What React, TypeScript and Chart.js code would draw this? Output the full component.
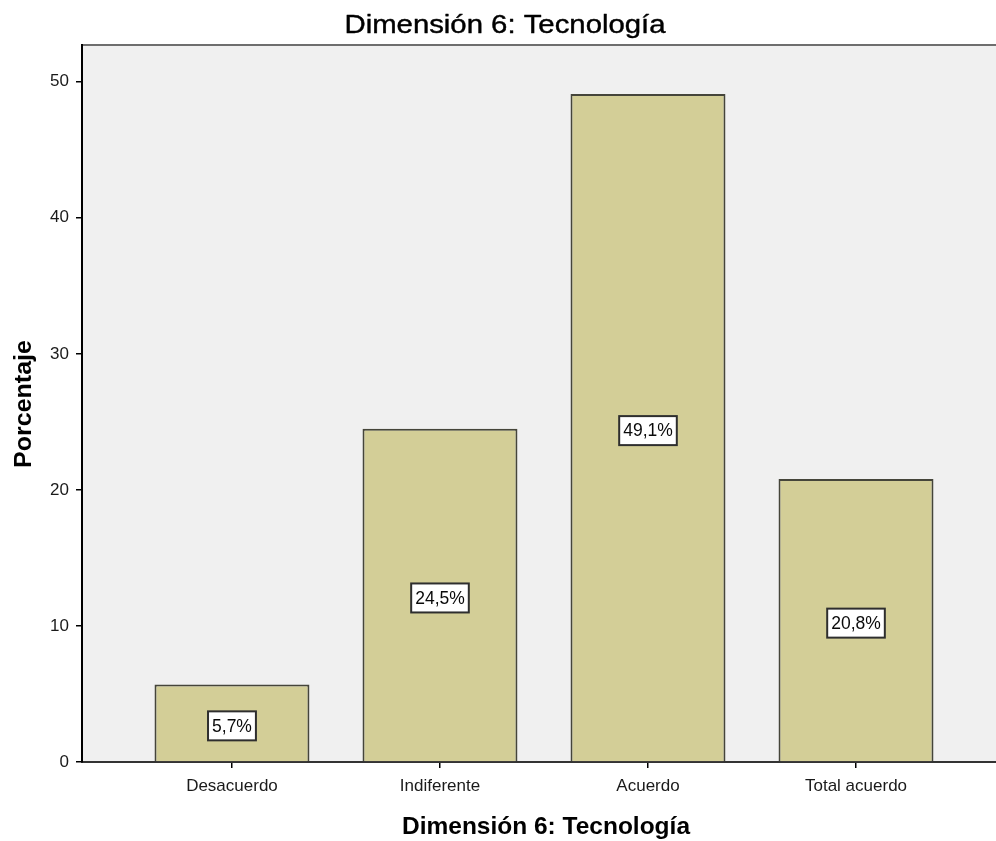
import { useEffect, useRef } from 'react';
import { Chart, registerables } from 'chart.js';

Chart.register(...registerables);

const categories = ['Desacuerdo', 'Indiferente', 'Acuerdo', 'Total acuerdo'];
const percentages = [5.7, 24.5, 49.1, 20.8];
const valueLabels = ['5,7%', '24,5%', '49,1%', '20,8%'];
const yTicks = [0, 10, 20, 30, 40, 50];
const chartTitle = 'Dimensión 6: Tecnología';
const xTitle = 'Dimensión 6: Tecnología';
const yTitle = 'Porcentaje';

const FONT = '"Liberation Sans", Arial, sans-serif';

function fitText(ctx: CanvasRenderingContext2D, text: string, cx: number, y: number, targetW: number, strokeW: number) {
  const w = ctx.measureText(text).width;
  const s = targetW / w;
  ctx.save();
  ctx.translate(cx, y);
  ctx.scale(s, 1);
  ctx.textAlign = 'center';
  if (strokeW > 0) {
    ctx.lineWidth = strokeW;
    ctx.strokeStyle = ctx.fillStyle as string;
    ctx.lineJoin = 'round';
    ctx.strokeText(text, 0, 0);
  }
  ctx.fillText(text, 0, 0);
  ctx.restore();
}

const decorPlugin = {
  id: 'decor',
  beforeDraw(chart: any) {
    const { ctx, chartArea: a } = chart;
    ctx.save();
    ctx.fillStyle = '#F0F0F0';
    ctx.fillRect(a.left, a.top, a.right - a.left, a.bottom - a.top);
    ctx.strokeStyle = '#6E6E6E';
    ctx.lineWidth = 2;
    ctx.beginPath();
    ctx.moveTo(a.left, a.top);
    ctx.lineTo(a.right, a.top);
    ctx.stroke();
    ctx.restore();
  },
  afterDatasetsDraw(chart: any) {
    const { ctx } = chart;
    const meta = chart.getDatasetMeta(0);
    ctx.save();
    ctx.font = `17.5px ${FONT}`;
    ctx.textAlign = 'center';
    ctx.textBaseline = 'middle';
    meta.data.forEach((bar: any, i: number) => {
      const text = valueLabels[i];
      const cx = bar.x;
      const cy = (bar.y + bar.base) / 2 + 3;
      const w = ctx.measureText(text).width + 8;
      const h = 29;
      ctx.fillStyle = '#FFFFFF';
      ctx.fillRect(cx - w / 2, cy - h / 2, w, h);
      ctx.strokeStyle = '#2E2E2E';
      ctx.lineWidth = 2;
      ctx.strokeRect(cx - w / 2, cy - h / 2, w, h);
      ctx.fillStyle = '#0A0A0A';
      ctx.fillText(text, cx, cy + 1);
    });
    ctx.restore();
  },
  afterDraw(chart: any) {
    const { ctx } = chart;
    ctx.save();
    ctx.fillStyle = '#000000';
    ctx.textBaseline = 'alphabetic';
    // main title
    ctx.font = `25px ${FONT}`;
    fitText(ctx, chartTitle, 505, 33, 321, 0.4);
    // x axis title
    ctx.font = `bold 24px ${FONT}`;
    fitText(ctx, xTitle, 546, 834, 288, 0);
    // y axis title
    ctx.translate(31, 404);
    ctx.rotate(-Math.PI / 2);
    ctx.font = `bold 24px ${FONT}`;
    fitText(ctx, yTitle, 0, 0, 128, 0);
    ctx.restore();
  },
};

export default function App() {
  const canvasRef = useRef<HTMLCanvasElement | null>(null);

  useEffect(() => {
    const canvas = canvasRef.current;
    if (!canvas) return;
    const chart = new Chart(canvas, {
      type: 'bar',
      data: {
        datasets: [
          {
            label: 'Porcentaje',
            data: percentages.map((v, i) => ({ x: i, y: v })),
            backgroundColor: '#D3CE97',
            borderColor: '#45453A',
            borderWidth: 2,
            categoryPercentage: 1,
            barPercentage: 0.745,
          },
        ],
      },
      options: {
        responsive: false,
        animation: false,
        devicePixelRatio: 1,
        layout: { padding: { top: 45, right: 0, bottom: 0, left: 0 } },
        plugins: {
          legend: { display: false },
          title: { display: false },
          tooltip: { enabled: false },
        },
        scales: {
          x: {
            type: 'linear',
            min: -0.721,
            max: 3.673,
            offset: false,
            z: 1,
            afterBuildTicks: (scale: any) => {
              scale.ticks = categories.map((_, i) => ({ value: i }));
            },
            afterFit: (scale: any) => {
              scale.height = 79;
            },
            grid: {
              offset: false,
              drawOnChartArea: false,
              drawTicks: true,
              tickLength: 6,
              tickColor: '#000000',
              lineWidth: 1.5,
            },
            border: { display: true, color: '#333333', width: 2 },
            ticks: {
              autoSkip: false,
              maxRotation: 0,
              padding: 8,
              color: '#1A1A1A',
              font: { family: FONT, size: 17 },
              callback: (v: any) => categories[v] ?? '',
            },
          },
          y: {
            type: 'linear',
            min: 0,
            max: 52.7,
            z: 1,
            afterBuildTicks: (scale: any) => {
              scale.ticks = yTicks.map((v) => ({ value: v }));
            },
            afterFit: (scale: any) => {
              scale.width = 82;
            },
            grid: {
              drawOnChartArea: false,
              drawTicks: true,
              tickLength: 6,
              tickColor: '#000000',
              lineWidth: 1.5,
            },
            border: { display: true, color: '#000000', width: 2 },
            ticks: {
              padding: 7,
              color: '#1A1A1A',
              font: { family: FONT, size: 17 },
              callback: (v: any) => String(v),
            },
          },
        },
      },
      plugins: [decorPlugin],
    });
    return () => chart.destroy();
  }, []);

  return (
    <canvas
      ref={canvasRef}
      width={996}
      height={841}
      style={{ position: 'absolute', left: 0, top: 0, width: 996, height: 841, display: 'block' }}
    />
  );
}
